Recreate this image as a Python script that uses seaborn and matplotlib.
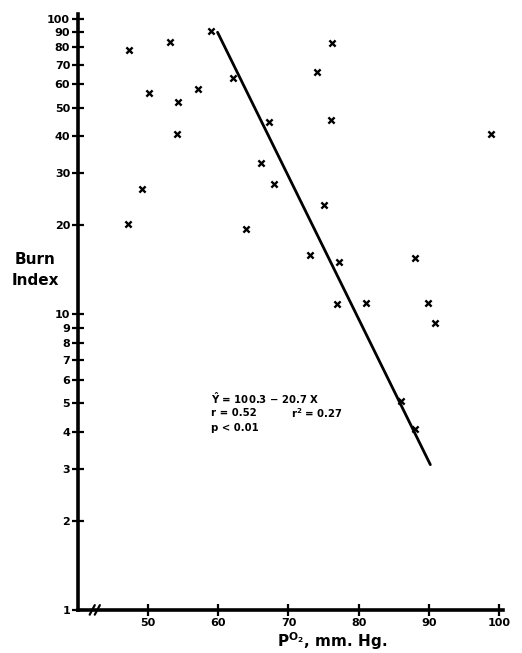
import matplotlib
matplotlib.use("Agg")
import matplotlib.pyplot as plt
import seaborn as sns
import pandas as pd

# pO2 (mm Hg) vs burn index
po2 = [47.3, 53.1, 59.0, 62.1, 50.2, 57.1, 54.2, 54.1, 49.1, 47.1, 64.0,
       76.2, 74.1, 67.2, 76.0, 98.8, 66.1, 67.9, 75.0, 73.0, 77.2, 88.0,
       76.9, 81.0, 89.8, 90.9, 86.0, 88.0]
burn = [78.3, 83.7, 90.7, 63.2, 55.9, 58.0, 52.1, 40.7, 26.5, 20.2, 19.4,
        82.9, 65.9, 44.7, 45.5, 40.6, 32.6, 27.5, 23.5, 15.9, 15.0, 15.5,
        10.8, 10.9, 10.9, 9.35, 5.1, 4.1]
fit_x = [59.9, 90.2]
fit_y = [90.0, 3.1]
y_ticks = [1, 2, 3, 4, 5, 6, 7, 8, 9, 10, 20, 30, 40, 50, 60, 70, 80, 90, 100]
x_ticks = [50, 60, 70, 80, 90, 100]

df = pd.DataFrame({"pO2": po2, "burn": burn})
fit = pd.DataFrame({"pO2": fit_x, "burn": fit_y})

sns.set_style("ticks")
plt.rcParams["font.family"] = ["DejaVu Sans"]
plt.rcParams["font.weight"] = "bold"
plt.rcParams["text.color"] = "black"

fig = plt.figure(figsize=(5.22, 6.53), dpi=100)
ax = fig.add_axes([0.149, 0.066, 0.814, 0.913])

sns.scatterplot(data=df, x="pO2", y="burn", marker="x", color="black",
                s=20, linewidth=1.7, ax=ax, zorder=3)
sns.lineplot(data=fit, x="pO2", y="burn", color="black", linewidth=2.0, ax=ax)

ax.set_yscale("log")
ax.set_ylim(1, 104)
ax.set_xlim(40, 100.5)
ax.set_yticks(y_ticks)
ax.set_yticklabels([str(t) for t in y_ticks])
ax.minorticks_off()
ax.set_xticks(x_ticks)
ax.set_xticklabels([str(t) for t in x_ticks])
ax.tick_params(direction="inout", length=9, width=1.6, labelsize=8,
               pad=1, colors="black")
ax.tick_params(axis="x", pad=1)
for lab in ax.get_xticklabels() + ax.get_yticklabels():
    lab.set_fontweight("bold")

sns.despine(ax=ax)
for s in ["left", "bottom"]:
    ax.spines[s].set_linewidth(2.6)
    ax.spines[s].set_color("black")

ax.set_xlabel("")
ax.set_ylabel("")

# axis break on x
for dx in (0.0, 0.012):
    ax.plot([0.028 + dx, 0.04 + dx], [-0.008, 0.008], transform=ax.transAxes,
            color="black", linewidth=1.6, clip_on=False)

fig.text(0.067, 0.586, "Burn\nIndex", ha="center", va="center",
         fontsize=11, fontweight="bold", linespacing=1.5, color="black")
fig.text(0.636, 0.018, r"P$\mathregular{^{O_2}}$, mm. Hg.", ha="center",
         va="center", fontsize=11, fontweight="bold", color="black")

ax.text(59.0, 5.19, r"$\hat{\mathregular{Y}}$ = 100.3 $-$ 20.7 X", fontsize=7.3,
        fontweight="bold", va="center", color="black")
ax.text(59.0, 4.62, "r = 0.52", fontsize=7.3, fontweight="bold", va="center",
        color="black")
ax.text(70.4, 4.62, r"r$\mathregular{^2}$ = 0.27", fontsize=7.3,
        fontweight="bold", va="center", color="black")
ax.text(59.0, 4.11, "p < 0.01", fontsize=7.3, fontweight="bold", va="center",
        color="black")

fig.savefig("out.png", dpi=100)
